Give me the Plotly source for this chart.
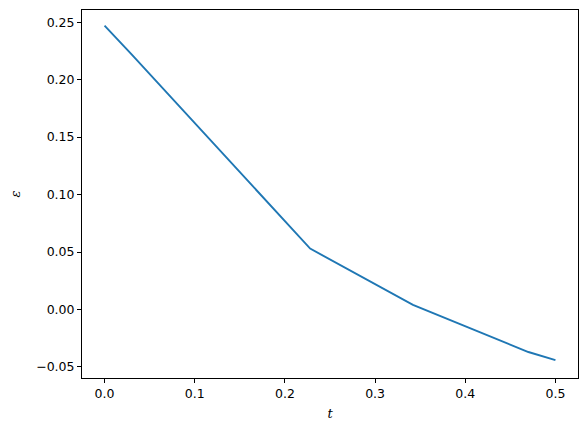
import plotly.graph_objects as go

# Data
t = [0.0, 0.03, 0.228, 0.342, 0.47, 0.5]
eps = [0.247, 0.222, 0.053, 0.004, -0.037, -0.044]

x_ticks = [0.0, 0.1, 0.2, 0.3, 0.4, 0.5]
y_ticks = [-0.05, 0.0, 0.05, 0.10, 0.15, 0.20, 0.25]

fig = go.Figure()
fig.add_trace(go.Scatter(x=t, y=eps, mode="lines",
                         line=dict(color="#1f77b4", width=1.9)))

axis_style = dict(
    showline=True, linecolor="black", linewidth=1, mirror=True,
    ticks="outside", ticklen=4, tickcolor="black", tickwidth=1,
    showgrid=False, zeroline=False,
    tickfont=dict(family="DejaVu Sans", size=12.5, color="black"),
)

# page body adds an 8px offset, so margins are shifted to compensate
fig.update_layout(
    width=587, height=432,
    margin=dict(l=74, r=17, t=2, b=62),
    paper_bgcolor="white", plot_bgcolor="white",
    showlegend=False,
    xaxis=dict(range=[-0.025, 0.525], tickvals=x_ticks, tickformat=".1f",
               title=dict(text="<i>t</i>", standoff=8,
                          font=dict(family="DejaVu Serif", size=13, color="black")),
               **axis_style),
    yaxis=dict(range=[-0.0596, 0.2606], tickvals=y_ticks, tickformat=".2f",
               title=dict(text="<i>ε</i>", standoff=12,
                          font=dict(family="DejaVu Serif", size=13, color="black")),
               **axis_style),
)

fig.write_html("out.html")
